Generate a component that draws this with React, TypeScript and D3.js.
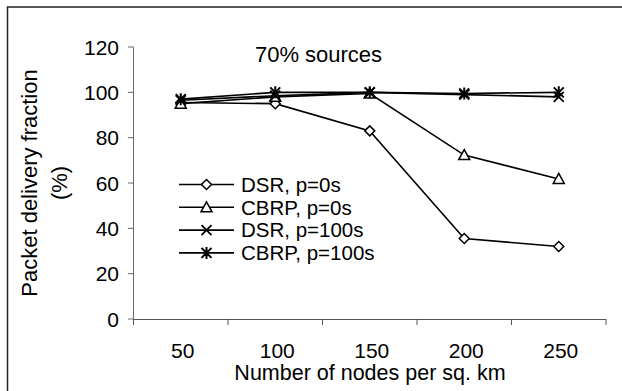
import React from "react";
import * as d3 from "d3";

const categories = ["50", "100", "150", "200", "250"];
const dsr0 = [95.5, 95, 83, 35.5, 32];
const cbrp0 = [95, 98, 99.5, 72.3, 61.8];
const dsr100 = [96.5, 98.5, 100, 99, 98];
const cbrp100 = [97, 100, 100, 99.5, 100];
const yTicks = [0, 20, 40, 60, 80, 100, 120];
const seriesNames = ["DSR, p=0s", "CBRP, p=0s", "DSR, p=100s", "CBRP, p=100s"];
const seriesMarkers = ["diamond", "triangle", "x", "star"];

const W = 622;
const H = 391;
const FONT = "'Liberation Sans', Arial, sans-serif";

function Marker({ type, x, y }: { type: string; x: number; y: number }) {
  const s = 5;
  if (type === "diamond") {
    return (
      <path
        d={`M${x},${y - s}L${x + s},${y}L${x},${y + s}L${x - s},${y}Z`}
        fill="#fff"
        stroke="#000"
        strokeWidth={1.5}
      />
    );
  }
  if (type === "triangle") {
    return (
      <path
        d={`M${x},${y - s - 0.5}L${x + s + 0.5},${y + s - 0.5}L${x - s - 0.5},${y + s - 0.5}Z`}
        fill="#fff"
        stroke="#000"
        strokeWidth={1.5}
      />
    );
  }
  if (type === "x") {
    return (
      <path
        d={`M${x - s},${y - s}L${x + s},${y + s}M${x - s},${y + s}L${x + s},${y - s}`}
        stroke="#000"
        strokeWidth={1.8}
        fill="none"
      />
    );
  }
  return (
    <path
      d={`M${x - s},${y - s}L${x + s},${y + s}M${x - s},${y + s}L${x + s},${y - s}M${x},${y - s - 1}L${x},${y + s + 1}`}
      stroke="#000"
      strokeWidth={2}
      fill="none"
    />
  );
}

export default function App() {
  const x = d3.scaleBand<string>().domain(categories).range([133.5, 606]).padding(0);
  const y = d3.scaleLinear().domain([0, 120]).range([319, 47]);
  const cx = (c: string) => (x(c) as number) + x.bandwidth() / 2;
  const line = d3
    .line<number>()
    .x((_, i) => cx(categories[i]))
    .y((v) => y(v));
  const allSeries = [dsr0, cbrp0, dsr100, cbrp100];
  const boundaries = categories.map((c) => x(c) as number).concat([606]);

  return (
    <div style={{ position: "absolute", left: 0, top: 0 }}>
      <svg width={W} height={H} style={{ display: "block" }} fontFamily={FONT}>
        <rect x={0} y={0} width={W} height={H} fill="#fff" />
        {/* outer frame */}
        <path d={`M7.5,${H + 2}V7H${W + 2}`} fill="none" stroke="#222" strokeWidth={1.5} />
        {/* axes */}
        <line x1={133.5} x2={133.5} y1={y(120)} y2={y(0)} stroke="#666" strokeWidth={1} />
        <line x1={133.5} x2={606} y1={y(0) + 0.5} y2={y(0) + 0.5} stroke="#555" strokeWidth={1} />
        {yTicks.map((t) => (
          <g key={t}>
            <line x1={128} x2={133.5} y1={y(t)} y2={y(t)} stroke="#666" strokeWidth={1} />
            <text x={119} y={y(t)} dy="0.36em" textAnchor="end" fontSize={21} fill="#000">
              {t}
            </text>
          </g>
        ))}
        {boundaries.map((b, i) => (
          <line key={i} x1={b} x2={b} y1={y(0)} y2={y(0) + 6} stroke="#555" strokeWidth={1} />
        ))}
        {categories.map((c) => (
          <text key={c} x={cx(c) + 2} y={358} textAnchor="middle" fontSize={21} fill="#000">
            {c}
          </text>
        ))}
        <text x={370} y={380} textAnchor="middle" fontSize={21.5} fill="#000">
          Number of nodes per sq. km
        </text>
        <g transform={`translate(29,${y(60)}) rotate(-90)`}>
          <text x={0} y={0} dy="0.36em" textAnchor="middle" fontSize={22} fill="#000">
            Packet delivery fraction
          </text>
        </g>
        <g transform={`translate(59.5,${y(60)}) rotate(-90)`}>
          <text x={0} y={0} dy="0.36em" textAnchor="middle" fontSize={22} fill="#000">
            (%)
          </text>
        </g>
        <text x={318.5} y={61.5} textAnchor="middle" fontSize={22} fill="#000">
          70% sources
        </text>
        {/* series lines */}
        {allSeries.map((s, i) => (
          <path key={i} d={line(s) || ""} fill="none" stroke="#000" strokeWidth={1.6} />
        ))}
        {allSeries.map((s, i) =>
          s.map((v, j) => <Marker key={`${i}-${j}`} type={seriesMarkers[i]} x={cx(categories[j])} y={y(v)} />)
        )}
        {/* legend */}
        {seriesNames.map((n, i) => {
          const ly = 184.5 + i * 22.8;
          return (
            <g key={n}>
              <line x1={179} x2={234} y1={ly} y2={ly} stroke="#000" strokeWidth={1.6} />
              <Marker type={seriesMarkers[i]} x={206.5} y={ly} />
              <text x={241} y={ly} dy="0.36em" fontSize={20.5} fill="#000">
                {n}
              </text>
            </g>
          );
        })}
      </svg>
    </div>
  );
}
